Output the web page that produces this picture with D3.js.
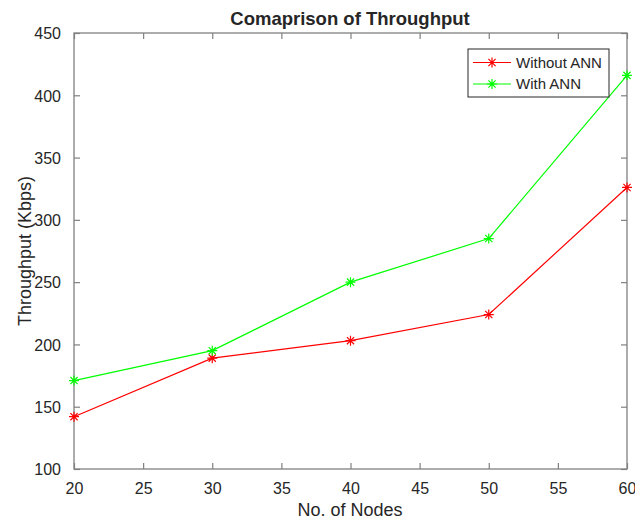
<!DOCTYPE html>
<html><head><meta charset="utf-8">
<script src="https://cdn.jsdelivr.net/npm/d3@7"></script>
<style>body{margin:0;background:#fff;} text{font-family:"Liberation Sans",Arial,sans-serif;}</style>
</head><body>
<svg id="c" width="635" height="519"></svg>
<script>
const nodes = [20, 30, 40, 50, 60];
const withoutANN = [142, 189, 203, 224, 326];
const withANN = [171, 195, 250, 285, 416];
const xTicks = [20, 25, 30, 35, 40, 45, 50, 55, 60];
const yTicks = [100, 150, 200, 250, 300, 350, 400, 450];
const seriesNames = ["Without ANN", "With ANN"];
const seriesColors = ["#ff0000", "#00ff00"];

const svg = d3.select("#c");
const L = 74, R = 627, T = 33, B = 469;
const x = d3.scaleLinear().domain([20, 60]).range([L, R]);
const y = d3.scaleLinear().domain([100, 450]).range([B, T]);
const axisCol = "#808080", textCol = "#262626";
const tk = 6;

// box
svg.append("rect").attr("x", L).attr("y", T).attr("width", R - L).attr("height", B - T)
  .attr("fill", "none").attr("stroke", axisCol).attr("stroke-width", 1.3);

const gx = svg.append("g").attr("transform", `translate(0,${B})`)
  .call(d3.axisBottom(x).tickValues(xTicks).tickSize(-tk).tickPadding(tk + 8));
const gxt = svg.append("g").attr("transform", `translate(0,${T})`)
  .call(d3.axisTop(x).tickValues(xTicks).tickSize(-tk).tickFormat(""));
const gy = svg.append("g").attr("transform", `translate(${L},0)`)
  .call(d3.axisLeft(y).tickValues(yTicks).tickSize(-tk).tickPadding(tk + 7));
const gyr = svg.append("g").attr("transform", `translate(${R},0)`)
  .call(d3.axisRight(y).tickValues(yTicks).tickSize(-tk).tickFormat(""));
[gx, gxt, gy, gyr].forEach(g => {
  g.select(".domain").remove();
  g.selectAll(".tick line").attr("stroke", axisCol).attr("stroke-width", 1.2);
  g.selectAll(".tick text").attr("fill", textCol).style("font-size", "16px")
    .style("font-family", "'Liberation Sans', Arial, sans-serif");
});
gy.selectAll(".tick text").attr("dy", "0.36em");

// title & labels
svg.append("text").attr("x", 350).attr("y", 25).attr("text-anchor", "middle")
  .style("font-size", "18.5px").style("font-weight", "bold").attr("fill", textCol)
  .text("Comaprison of Throughput");
svg.append("text").attr("x", 350).attr("y", 516).attr("text-anchor", "middle")
  .style("font-size", "18px").attr("fill", textCol).text("No. of Nodes");
svg.append("text").attr("transform", "translate(31,251) rotate(-90)").attr("text-anchor", "middle")
  .style("font-size", "18px").attr("fill", textCol).text("Throughput (Kbps)");

function star(g, cx, cy, col) {
  const r = 5, d = r * 0.72;
  const p = `M${cx - r},${cy}L${cx + r},${cy}M${cx},${cy - r}L${cx},${cy + r}` +
    `M${cx - d},${cy - d}L${cx + d},${cy + d}M${cx - d},${cy + d}L${cx + d},${cy - d}`;
  g.append("path").attr("d", p).attr("stroke", col).attr("stroke-width", 1.2).attr("fill", "none");
}

const series = [withoutANN, withANN];
const line = d3.line().x(d => x(d[0])).y(d => y(d[1]));
series.forEach((vals, i) => {
  const pts = nodes.map((n, j) => [n, vals[j]]);
  const g = svg.append("g");
  g.append("path").datum(pts).attr("d", line).attr("fill", "none")
    .attr("stroke", seriesColors[i]).attr("stroke-width", 1.2);
  pts.forEach(p => star(g, x(p[0]), y(p[1]), seriesColors[i]));
});

// legend
const lg = svg.append("g");
lg.append("rect").attr("x", 468).attr("y", 49).attr("width", 141).attr("height", 48)
  .attr("fill", "#fff").attr("stroke", "#262626").attr("stroke-width", 1);
seriesNames.forEach((nm, i) => {
  const cy = 62.5 + i * 21.5;
  lg.append("line").attr("x1", 473).attr("x2", 511).attr("y1", cy).attr("y2", cy)
    .attr("stroke", seriesColors[i]).attr("stroke-width", 1.2);
  star(lg, 492, cy, seriesColors[i]);
  lg.append("text").attr("x", 516).attr("y", cy + 5.3).style("font-size", "15px")
    .attr("fill", textCol).text(nm);
});
</script>
</body></html>
